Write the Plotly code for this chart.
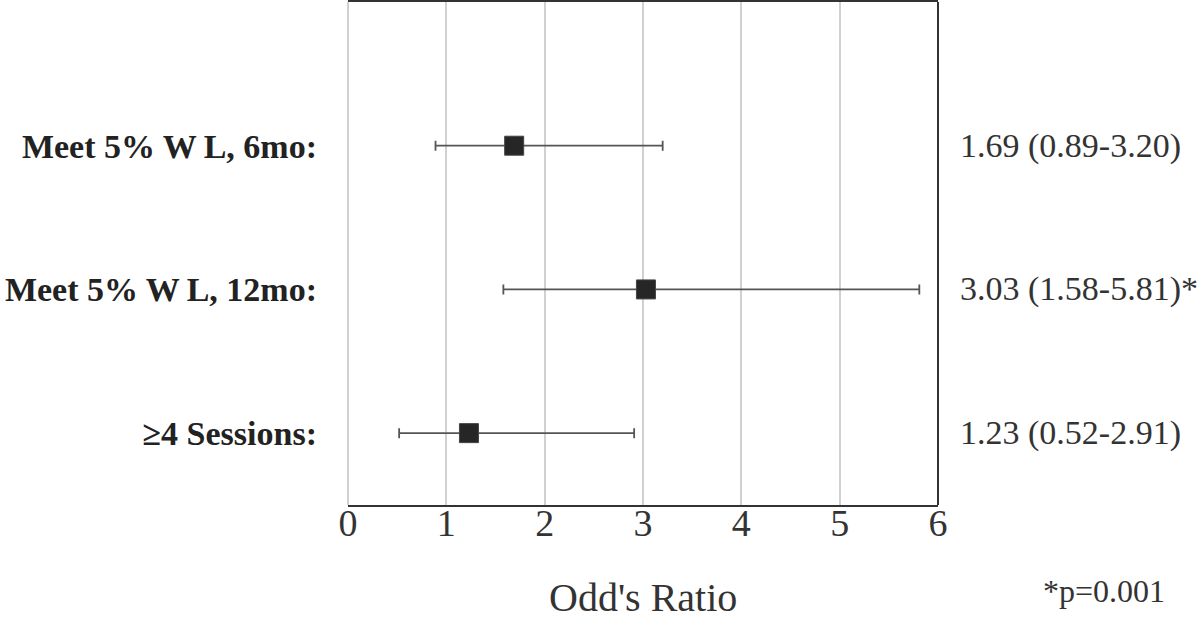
import plotly.graph_objects as go

labels = ["Meet 5% W\u2009L, 6mo:", "Meet 5% W\u2009L, 12mo:", "≥4 Sessions:"]
odds = [1.69, 3.03, 1.23]
lower = [0.89, 1.58, 0.52]
upper = [3.20, 5.81, 2.91]
right_text = ["1.69 (0.89-3.20)", "3.03 (1.58-5.81)*", "1.23 (0.52-2.91)"]
ypos = [3, 2, 1]
xticks = [0, 1, 2, 3, 4, 5, 6]
x_title = "Odd's Ratio"
footnote = "*p=0.001"

serif = "Liberation Serif, Times New Roman, serif"

fig = go.Figure()
fig.add_trace(go.Scatter(
    x=odds, y=ypos, mode="markers",
    marker=dict(symbol="square", size=19, color="#262626",
                line=dict(color="#444444", width=1)),
    error_x=dict(type="data", symmetric=False,
                 array=[u - o for u, o in zip(upper, odds)],
                 arrayminus=[o - l for o, l in zip(odds, lower)],
                 color="#555555", thickness=1.8, width=5),
    showlegend=False, hoverinfo="skip",
))

for y, t in zip(ypos, right_text):
    fig.add_annotation(x=1, xref="paper", xshift=20, y=y, yref="y",
                       text=t, showarrow=False, xanchor="left",
                       font=dict(family=serif, size=34, color="#333333"))

# plot area spans x 348..938, y 2..505 in pixels
fig.add_annotation(x=(1104 - 348) / 590, xref="paper", y=(505 - 591) / 503, yref="paper",
                   yanchor="middle", xanchor="center",
                   text=footnote, showarrow=False,
                   font=dict(family=serif, size=32, color="#333333"))
fig.add_annotation(x=0.5, xref="paper", y=(505 - 597) / 503, yref="paper",
                   yanchor="middle", xanchor="center", borderpad=0,
                   text=x_title, showarrow=False,
                   font=dict(family=serif, size=40, color="#333333"))

# left edge (light grid line at x=0) and right frame line
fig.add_shape(type="line", xref="paper", yref="paper", x0=0, x1=0, y0=0, y1=1,
              line=dict(color="#d0d0d0", width=2), layer="below")
fig.add_shape(type="line", xref="paper", yref="paper", x0=1, x1=1, y0=0, y1=1,
              line=dict(color="#333333", width=2))

fig.update_layout(
    width=1200, height=619,
    margin=dict(l=348, r=262, t=2, b=114, autoexpand=False),
    plot_bgcolor="white", paper_bgcolor="white",
    xaxis=dict(range=[0, 6], tickvals=xticks, ticktext=[str(v) for v in xticks],
               showgrid=True, gridcolor="#d0d0d0", gridwidth=2,
               zeroline=False, showline=True, mirror=True,
               linecolor="#333333", linewidth=2, ticks="",
               ticklabelstandoff=-17, automargin=False,
               tickfont=dict(family=serif, size=38, color="#333333")),
    yaxis=dict(range=[0.5, 4], tickvals=ypos,
               ticktext=["<b>" + l + "</b>" for l in labels],
               showgrid=False, zeroline=False, showline=False,
               ticks="", ticklabelstandoff=30, automargin=False,
               tickfont=dict(family=serif, size=34, color="#222222")),
)

fig.write_html("out.html", config={"displayModeBar": False},
               post_script="document.body.style.margin='0';")
